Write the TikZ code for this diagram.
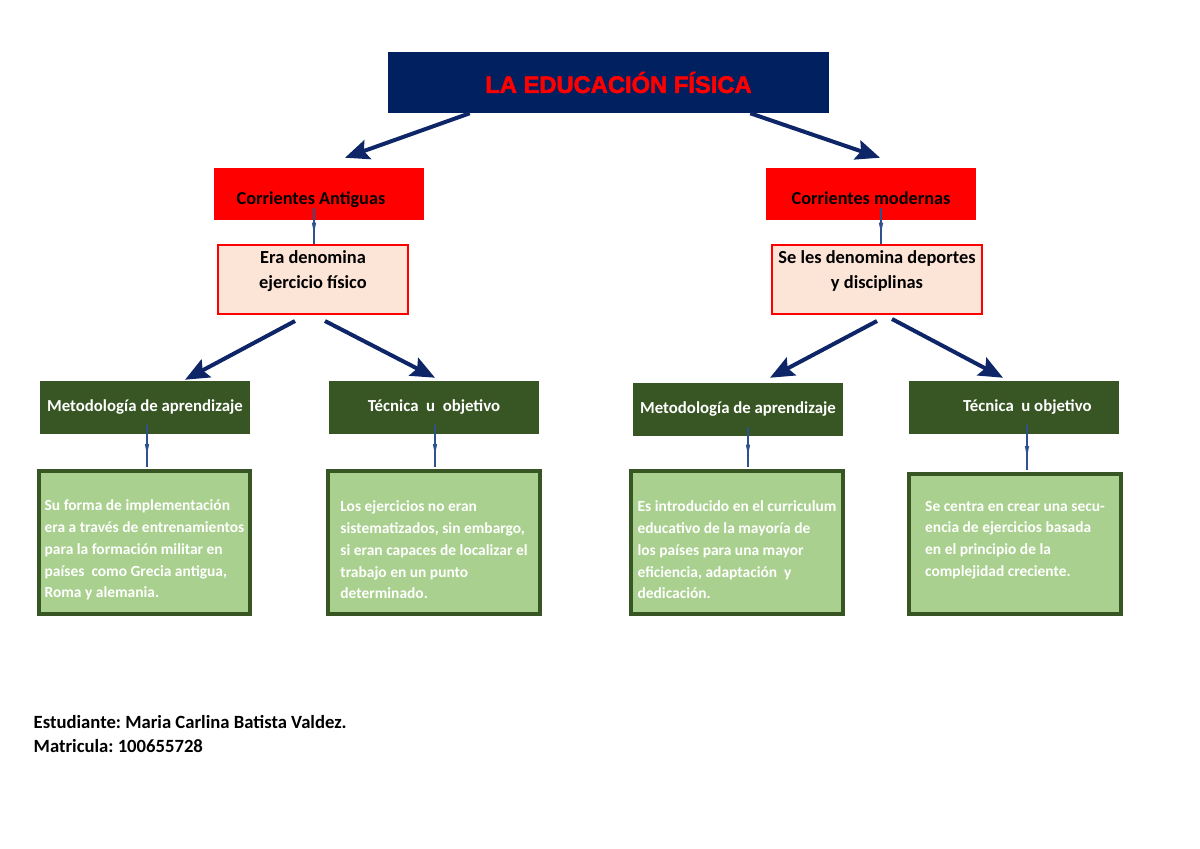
\documentclass[tikz,border=0pt]{standalone}
\usepackage{fontspec}
\setmainfont{Carlito}
\newfontfamily\headfont{Liberation Sans}[FakeBold=2.5]
\usetikzlibrary{arrows.meta,calc,decorations.markings}
\frenchspacing
\newcommand{\lowstrut}{\rule{0pt}{19.5pt}}

\definecolor{titlenavy}{RGB}{0,32,96}
\definecolor{arrownavy}{RGB}{14,38,104}
\definecolor{linkblue}{RGB}{47,82,143}
\definecolor{peach}{RGB}{252,228,214}
\definecolor{darkolive}{RGB}{55,86,35}
\definecolor{lightolive}{RGB}{169,208,142}

\tikzset{
  titlebox/.style={fill=titlenavy, text=red, minimum width=330.75pt, minimum height=45.75pt,
    font=\headfont\fontsize{17.8}{20}\selectfont\bfseries},
  redbox/.style={fill=red, minimum width=157.5pt, minimum height=39pt, text height=19pt, text depth=3pt,
    font=\fontsize{13.7}{18}\selectfont\bfseries},
  peachbox/.style={fill=peach, draw=red, line width=1.5pt, minimum height=51.75pt, text depth=15pt,
    align=center, font=\fontsize{13.8}{18.75}\selectfont\bfseries},
  greenbox/.style={fill=darkolive, text=white, minimum width=157.5pt, minimum height=39.75pt,
    font=\fontsize{12.6}{16}\selectfont\bfseries},
  notebox/.style={fill=lightolive, draw=darkolive, line width=2.5pt, text=white, inner sep=2pt,
    minimum height=107.25pt, align=left, font=\fontsize{11.6}{16.3}\selectfont\bfseries},
  bigarrow/.style={draw=arrownavy, line width=3pt,
    -{Stealth[length=18pt,width=15pt,inset=3pt]}},
  link/.style={draw=linkblue, line width=0.9pt, postaction={decorate},
    decoration={markings, mark=at position 0.7 with {\arrow[linkblue]{Triangle[length=8pt,width=3pt]}}}}
}

\begin{document}
\begin{tikzpicture}[x=0.75pt,y=0.75pt]
\useasboundingbox (0,0) rectangle (1200,-849);

% title
\node[titlebox] (tit) at (608.5,-82.5) {\hspace{15pt}LA EDUCACIÓN FÍSICA};

% two currents
\node[redbox] (ant) at (319,-194) {\hspace{-12pt}Corrientes Antiguas};
\node[redbox] (mod) at (871,-194) {Corrientes modernas};
\node[peachbox, minimum width=142.5pt] (era) at (313,-279.5) {Era denomina\\ejercicio físico};
\node[peachbox, minimum width=157.5pt] (sel) at (877,-279.5) {Se les denomina deportes\\y disciplinas};

% method / technique
\node[greenbox] (met1) at (145,-407.5) {Metodología de aprendizaje};
\node[greenbox] (tec1) at (434,-407.5) {Técnica\ \ u\ \ objetivo};
\node[greenbox] (met2) at (738,-409.5) {Metodología de aprendizaje};
\node[greenbox] (tec2) at (1014,-407.5) {\hspace{20pt}Técnica\ \ u objetivo};

% descriptions
\node[notebox, minimum width=158.25pt] (des1) at (144.5,-542.5)
  {\lowstrut Su forma de implementación\\era a través de entrenamientos\\para la formación militar en\\países\ \ como Grecia antigua,\\Roma y alemania.};
\node[notebox, minimum width=159pt] (des2) at (434,-542.5)
  {\lowstrut Los ejercicios no eran\\sistematizados, sin embargo,\\si eran capaces de localizar el\\trabajo en un punto\\determinado.};
\node[notebox, minimum width=159pt] (des3) at (737,-542.5)
  {\lowstrut Es introducido en el curriculum\\educativo de la mayoría de\\los países para una mayor\\eficiencia, adaptación\ \ y\\dedicación.};
\node[notebox, minimum width=159pt, minimum height=105pt, text depth=8pt] (des4) at (1015,-544)
  {Se centra en crear una secu-\\encia de ejercicios basada\\en el principio de la\\complejidad creciente.};

% student
\node[anchor=west, align=left, font=\fontsize{14}{18}\selectfont\bfseries] (alumno) at (29,-734)
  {Estudiante: Maria Carlina Batista Valdez.\\Matricula: 100655728};

% big arrows
\draw[bigarrow] ($(tit.south west)+(82,0)$) -- ($(ant.north)+(26,10)$);
\draw[bigarrow] ($(tit.south east)+(-79,0)$) -- ($(mod.north)+(9,10)$);
\draw[bigarrow] ($(era.south)+(-18,-6)$) -- ($(met1.north)+(40,1)$);
\draw[bigarrow] ($(era.south)+(12,-6)$) -- ($(tec1.north)+(1,3)$);
\draw[bigarrow] ($(sel.south)+(0,-6)$) -- ($(met2.north)+(32,5)$);
\draw[bigarrow] ($(sel.south)+(15,-4)$) -- ($(tec2.north)+(-11,3)$);

% small links
\draw[link] ($(ant.south)+(-5,12)$) -- ($(era.north)+(1,0)$);
\draw[link] ($(mod.south)+(10,12)$) -- ($(sel.north)+(4,0)$);
\draw[link] ($(met1.south)+(2,9)$) -- ($(des1.north)+(2.5,2)$);
\draw[link] ($(tec1.south)+(1,9)$) -- ($(des2.north)+(1,2)$);
\draw[link] ($(met2.south)+(10,9)$) -- ($(des3.north)+(11,2)$);
\draw[link] ($(tec2.south)+(13,9)$) -- ($(des4.north)+(12,2)$);
\end{tikzpicture}
\end{document}
